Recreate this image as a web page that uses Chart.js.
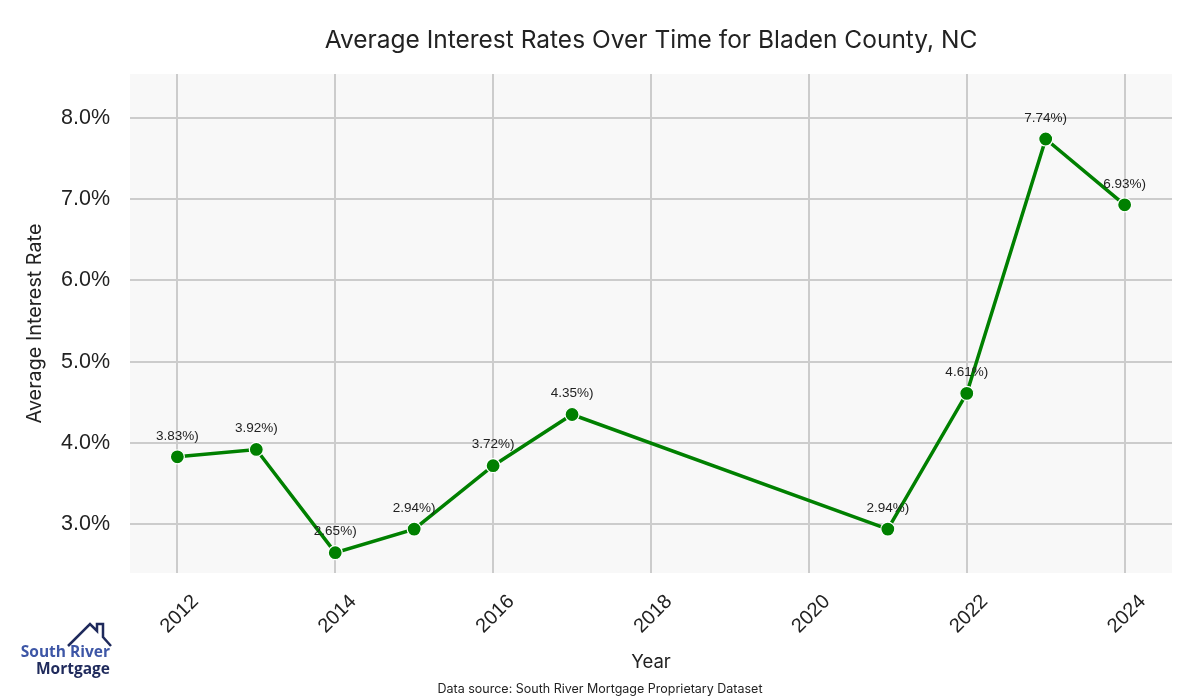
<!DOCTYPE html>
<html>
<head>
<meta charset="utf-8">
<script src="https://cdn.jsdelivr.net/npm/chart.js@4"></script>
<style>
  body { margin: 0; background: #fff; }
  #wrap { width: 1200px; height: 700px; }
</style>
</head>
<body>
<div id="wrap"><canvas id="myChart" width="1200" height="700"></canvas></div>
<script>
const years = [2012, 2013, 2014, 2015, 2016, 2017, 2021, 2022, 2023, 2024];
const rates = [3.83, 3.92, 2.65, 2.94, 3.72, 4.35, 2.94, 4.61, 7.74, 6.93];
const x_ticks = [2012, 2014, 2016, 2018, 2020, 2022, 2024];
const y_ticks = [3, 4, 5, 6, 7, 8];
const line_color = "rgb(0, 128, 0)";
const grid_color = "rgb(204, 204, 204)";

// grey plot background
const plot_bg = {
  id: "plot_bg",
  beforeDraw: (chart) => {
    const { ctx, chartArea } = chart;
    ctx.save();
    ctx.fillStyle = "rgb(248, 248, 248)";
    ctx.fillRect(chartArea.left, chartArea.top, chartArea.right - chartArea.left, chartArea.bottom - chartArea.top);
    ctx.restore();
  },
};

// value labels above the points
const point_labels = {
  id: "point_labels",
  afterDatasetsDraw: (chart) => {
    const ctx = chart.ctx;
    const meta = chart.getDatasetMeta(0);
    ctx.save();
    ctx.font = "13.5px 'Liberation Sans', Arial, sans-serif";
    ctx.fillStyle = "#222";
    ctx.textAlign = "center";
    ctx.textBaseline = "middle";
    meta.data.forEach((pt, i) => {
      ctx.fillText(rates[i].toFixed(2) + "%)", pt.x, pt.y - 21);
    });
    ctx.restore();
  },
};

// footer note and logo
const footer = {
  id: "footer",
  afterDraw: (chart) => {
    const ctx = chart.ctx;
    ctx.save();
    ctx.font = "12.5px Inter, sans-serif";
    ctx.fillStyle = "#222";
    ctx.textAlign = "center";
    ctx.textBaseline = "middle";
    ctx.fillText("Data source: South River Mortgage Proprietary Dataset", 600, 689);

    // house outline
    ctx.strokeStyle = "rgb(31, 42, 92)";
    ctx.lineWidth = 2.5;
    ctx.lineJoin = "miter";
    ctx.beginPath();
    ctx.moveTo(68, 646);
    ctx.lineTo(90, 624);
    ctx.lineTo(97, 631);
    ctx.lineTo(97, 624);
    ctx.lineTo(103, 624);
    ctx.lineTo(103, 637);
    ctx.lineTo(111, 646);
    ctx.stroke();

    ctx.textAlign = "right";
    ctx.font = "bold 15.5px 'Open Sans', sans-serif";
    ctx.fillStyle = "rgb(61, 86, 166)";
    ctx.fillText("South River", 110, 653);
    ctx.fillStyle = "rgb(31, 42, 92)";
    ctx.fillText("Mortgage", 110, 670);
    ctx.restore();
  },
};

const ctx = document.getElementById("myChart").getContext("2d");
const myChart = new Chart(ctx, {
  type: "scatter",
  data: {
    datasets: [
      {
        label: "Average Interest Rate",
        data: years.map((y, i) => ({ x: y, y: rates[i] })),
        showLine: true,
        borderColor: line_color,
        backgroundColor: line_color,
        borderWidth: 3.5,
        pointRadius: 7,
        pointHoverRadius: 7,
        pointBorderColor: "#fff",
        pointBorderWidth: 1.2,
        pointBackgroundColor: line_color,
        tension: 0,
      },
    ],
  },
  options: {
    responsive: false,
    maintainAspectRatio: false,
    animation: false,
    layout: { padding: { left: 0, right: 28, top: 0, bottom: 0 } },
    plugins: {
      legend: { display: false },
      tooltip: { enabled: false },
      title: {
        display: true,
        fullSize: false,
        text: "Average Interest Rates Over Time for Bladen County, NC",
        color: "#222",
        font: { family: "Inter, sans-serif", size: 24.5, weight: "normal" },
        padding: { top: 26, bottom: 18.6 },
      },
    },
    scales: {
      x: {
        type: "linear",
        min: 2011.4,
        max: 2024.6,
        border: { display: false },
        grid: { color: grid_color, lineWidth: 2, drawTicks: false },
        afterBuildTicks: (scale) => {
          scale.ticks = x_ticks.map((v) => ({ value: v }));
        },
        afterFit: (scale) => {
          scale.height = 127;
        },
        ticks: {
          color: "#222",
          font: { family: "'Liberation Sans', Arial, sans-serif", size: 20 },
          minRotation: 45,
          maxRotation: 45,
          padding: 17,
          labelOffset: 18,
          callback: (v) => String(v),
        },
        title: {
          display: true,
          text: "Year",
          color: "#222",
          font: { family: "Inter, sans-serif", size: 18.5 },
          padding: { top: 0, bottom: 26 },
        },
      },
      y: {
        min: 2.4,
        max: 8.54,
        border: { display: false },
        grid: { color: grid_color, lineWidth: 2, drawTicks: false },
        afterBuildTicks: (scale) => {
          scale.ticks = y_ticks.map((v) => ({ value: v }));
        },
        afterFit: (scale) => {
          scale.width = 130;
        },
        ticks: {
          color: "#222",
          font: { family: "'Liberation Sans', Arial, sans-serif", size: 21.5 },
          padding: 20,
          callback: (v) => v.toFixed(1) + "%",
        },
        title: {
          display: true,
          text: "Average Interest Rate",
          color: "#222",
          font: { family: "Inter, sans-serif", size: 19.8 },
          padding: { top: 23, bottom: 6 },
        },
      },
    },
  },
  plugins: [plot_bg, point_labels, footer],
});
</script>
</body>
</html>
